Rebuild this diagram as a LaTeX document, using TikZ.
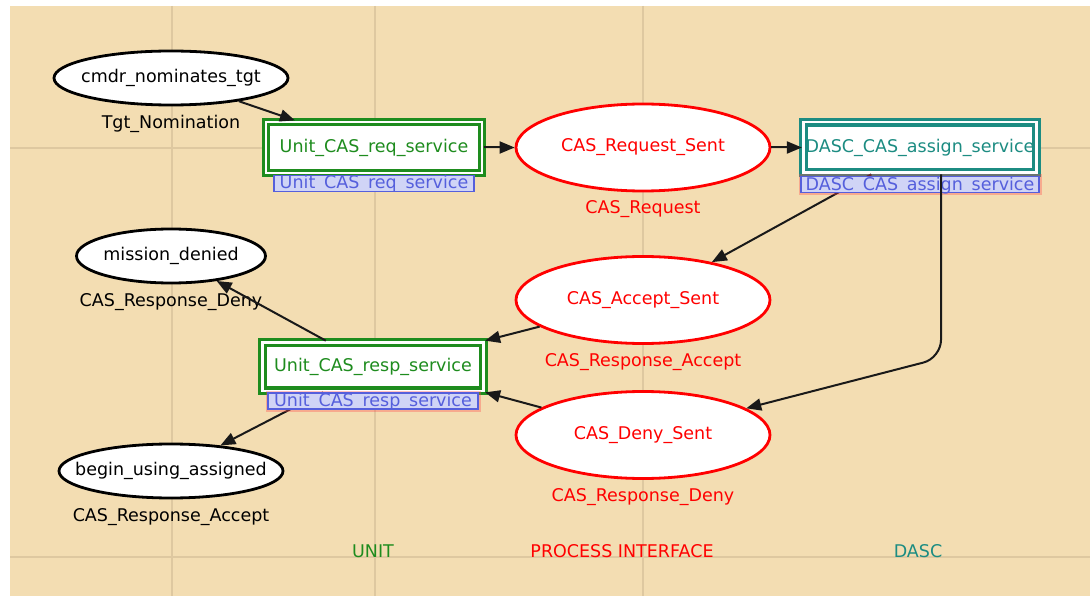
\documentclass[tikz,border=0pt]{standalone}
\usepackage{fontspec}
\setmainfont{DejaVu Sans}
\usetikzlibrary{arrows.meta,shapes.geometric,positioning}

\definecolor{paneltan}{RGB}{243,221,178}
\definecolor{gridtan}{RGB}{222,200,160}
\definecolor{unitgreen}{RGB}{30,140,30}
\definecolor{dascteal}{RGB}{28,140,130}
\definecolor{tagblue}{RGB}{85,95,220}
\definecolor{tagfill}{RGB}{208,212,246}
\definecolor{edgegray}{RGB}{25,25,25}

\newcommand{\ctrtxt}[1]{\makebox[0pt]{#1}}
\newcommand{\hideus}{\hphantom{\_}}

\begin{document}
\begin{tikzpicture}[x=1pt, y=-1pt,
  every node/.style={font=\fontsize{17.5}{20}\selectfont, inner sep=0pt},
  actor/.style={ellipse, draw=black, line width=2.8pt, fill=white, minimum height=54pt},
  iface/.style={ellipse, draw=red, line width=2.8pt, fill=white, text=red, minimum width=254pt, minimum height=87pt},
  svc/.style={rectangle, line width=3.2pt, double=white, double distance=2.5pt, fill=white},
  tag/.style={rectangle, draw=tagblue, line width=1.6pt, fill=tagfill, text=tagblue, minimum height=16pt, text height=13pt, text depth=2pt},
  glow/.style={preaction={draw=red!70, draw opacity=0.35, line width=5pt}},
  flow/.style={draw=edgegray, line width=2pt, -{Triangle[length=15pt,width=12pt]}},
  lanerule/.style={draw=gridtan, line width=2.5pt},
  lane/.style={anchor=base}
]

  % Background and lanes
  \useasboundingbox (0,0) rectangle (1090,596);
  \fill[paneltan] (10,6) rectangle (1090,596);
  \foreach \gx in {172,375,643}
    \draw[lanerule] (\gx,6) -- (\gx,596);
  \foreach \gy in {148,557}
    \draw[lanerule] (10,\gy) -- (1090,\gy);

  % Unit states
  \node[actor, minimum width=234pt] (cmdrNom) at (171,78) {\ctrtxt{cmdr\_nominates\_tgt}};
  \node[below=9pt of cmdrNom] (cmdrNomLbl) {Tgt\_Nomination};

  \node[actor, minimum width=189pt] (missionDenied) at (171,256) {\ctrtxt{mission\_denied}};
  \node[below=9pt of missionDenied] (missionDeniedLbl) {CAS\_Response\_Deny};

  \node[actor, minimum width=224pt] (beginUsing) at (171,471) {\ctrtxt{begin\_using\_assigned}};
  \node[below=9pt of beginUsing] (beginUsingLbl) {CAS\_Response\_Accept};

  % Services
  \node[svc, draw=unitgreen, text=unitgreen, minimum width=216pt, minimum height=51pt] (reqSvc) at (374,147.5) {Unit\_CAS\_req\_service};
  \node[svc, draw=unitgreen, text=unitgreen, minimum width=221pt, minimum height=48.5pt] (respSvc) at (373,366.5) {Unit\_CAS\_resp\_service};
  \node[svc, draw=dascteal, text=dascteal, minimum width=233pt, minimum height=50.5pt] (assignSvc) at (920,147.5) {DASC\_CAS\_assign\_service};

  % Process interface
  \node[iface] (reqSent) at (643,147.5) {\ctrtxt{CAS\_Request\_Sent}};
  \node[below=8pt of reqSent, text=red] (reqSentLbl) {CAS\_Request};

  \node[iface] (acceptSent) at (643,300) {\ctrtxt{CAS\_Accept\_Sent}};
  \node[below=8pt of acceptSent, text=red] (acceptSentLbl) {CAS\_Response\_Accept};

  \node[iface] (denySent) at (643,435) {\ctrtxt{CAS\_Deny\_Sent}};
  \node[below=8pt of denySent, text=red] (denySentLbl) {CAS\_Response\_Deny};

  \coordinate (assignBend) at (941,358);

  % Flows
  \draw[flow] (cmdrNom) -- (reqSvc);
  \draw[flow] (reqSvc) -- (reqSent);
  \draw[flow] (reqSent) -- (assignSvc);
  \draw[flow] (assignSvc) -- (acceptSent);
  \draw[flow] (acceptSent) -- (respSvc.north east);
  \draw[flow] (denySent) -- (respSvc.south east);
  \draw[flow] (respSvc) -- (missionDenied);
  \draw[flow] (respSvc) -- (beginUsing);

  % Tags
  \node[tag, minimum width=200pt, below=0pt of reqSvc] (reqSvcTag) {Unit\hideus CAS\hideus req\hideus service};
  \node[tag, glow, minimum width=210pt, below=0pt of respSvc] (respSvcTag) {Unit\hideus CAS\hideus resp\hideus service};
  \node[tag, glow, minimum width=238pt, below=1.5pt of assignSvc] (assignSvcTag) {DASC\hideus CAS\hideus assign\hideus service};

  % this one crosses the tag
  \draw[flow, rounded corners=18pt] (assignBend |- assignSvc.south) -- (assignBend) -- (denySent);

  % Lane names
  \node[lane, text=unitgreen] (unitLane) at (373,557) {UNIT};
  \node[lane, text=red] (ifaceLane) at (622,557) {PROCESS INTERFACE};
  \node[lane, text=dascteal] (dascLane) at (918,557) {DASC};

\end{tikzpicture}
\end{document}
